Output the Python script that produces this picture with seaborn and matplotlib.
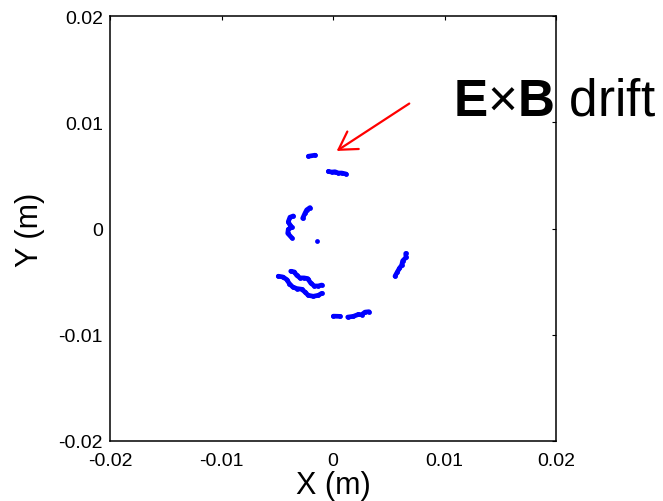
import numpy as np
import pandas as pd
import matplotlib
matplotlib.use("Agg")
import matplotlib.pyplot as plt
import seaborn as sns

# Guiding-centre trajectory fragments in the transverse plane (metres)
seg_a_x = [-0.0022, -0.0016]
seg_a_y = [0.0068, 0.0069]

seg_b_x = [-0.00042, -0.00012, 0.00018, 0.00048, 0.00078, 0.00117]
seg_b_y = [0.00537, 0.00531, 0.00534, 0.00522, 0.00522, 0.00513]

seg_c_x = [-0.00272, -0.00251, -0.00236, -0.00206]
seg_c_y = [0.00096, 0.00144, 0.00175, 0.00197]

seg_d_x = [-0.00356, -0.00386, -0.00401, -0.00386, -0.00370, -0.00401, -0.00406, -0.00370]
seg_d_y = [0.00118, 0.00106, 0.00064, 0.00033, 0.00011, -0.00008, -0.00045, -0.00087]

seg_e_x = [-0.00143]
seg_e_y = [-0.00118]

seg_f_x = [0.00652, 0.00655, 0.00625, 0.00616, 0.00595, 0.00577, 0.00556]
seg_f_y = [-0.00235, -0.00272, -0.00304, -0.00345, -0.00376, -0.00409, -0.00449]

seg_g1_x = [-0.00379, -0.00347, -0.00326, -0.00296, -0.00260, -0.00227, -0.00200, -0.00168, -0.00132, -0.00101]
seg_g1_y = [-0.00402, -0.00409, -0.00440, -0.00465, -0.00465, -0.00471, -0.00513, -0.00541, -0.00541, -0.00532]

seg_g2_x = [-0.00491, -0.00451, -0.00415, -0.00392, -0.00362, -0.00326, -0.00281, -0.00251, -0.00222, -0.00177, -0.00132, -0.00101]
seg_g2_y = [-0.00449, -0.00456, -0.00480, -0.00518, -0.00550, -0.00565, -0.00572, -0.00598, -0.00629, -0.00638, -0.00629, -0.00610]

seg_h1_x = [0.00003, 0.00063]
seg_h1_y = [-0.00825, -0.00827]

seg_h2_x = [0.00132, 0.00182, 0.00227, 0.00257, 0.00287, 0.00323]
seg_h2_y = [-0.00834, -0.00827, -0.00809, -0.00811, -0.00787, -0.00783]

ticks = [-0.02, -0.01, 0, 0.01, 0.02]
tick_labels = ["-0.02", "-0.01", "0", "0.01", "0.02"]

# arrow tail / head in data coordinates
arrow_tail = (0.00684, 0.01176)
arrow_head = (0.00033, 0.0073)

segments = {
    "a": (seg_a_x, seg_a_y), "b": (seg_b_x, seg_b_y), "c": (seg_c_x, seg_c_y),
    "d": (seg_d_x, seg_d_y), "e": (seg_e_x, seg_e_y), "f": (seg_f_x, seg_f_y),
    "g1": (seg_g1_x, seg_g1_y), "g2": (seg_g2_x, seg_g2_y),
    "h1": (seg_h1_x, seg_h1_y), "h2": (seg_h2_x, seg_h2_y),
}
rows = []
for name, (xs, ys) in segments.items():
    for i, (x, y) in enumerate(zip(xs, ys)):
        rows.append({"seg": name, "order": i, "x": x, "y": y})
df = pd.DataFrame(rows)

sns.set_style("white")
plt.rcParams["font.family"] = ["Liberation Sans", "DejaVu Sans"]
plt.rcParams["mathtext.fontset"] = "custom"
plt.rcParams["mathtext.rm"] = "Liberation Sans"
plt.rcParams["mathtext.bf"] = "Liberation Sans:bold"
plt.rcParams["text.color"] = "black"
plt.rcParams["axes.labelcolor"] = "black"

fig = plt.figure(figsize=(6.63, 5.02), dpi=100)
ax = fig.add_axes([110 / 663, 1 - 442 / 502, 446 / 663, 425 / 502])

blue = "#0000ff"
sns.lineplot(data=df, x="x", y="y", units="seg", estimator=None, sort=False,
             color=blue, linewidth=3.4, solid_capstyle="round", ax=ax)
sns.scatterplot(data=df, x="x", y="y", color=blue, s=12, linewidth=0, ax=ax)

ax.set_xlim(-0.02, 0.02)
ax.set_ylim(-0.02, 0.02)
ax.set_xticks(ticks)
ax.set_xticklabels(tick_labels)
ax.set_yticks(ticks)
ax.set_yticklabels(tick_labels)
ax.tick_params(direction="in", length=3, width=0.8, top=True, right=True,
               labelsize=14, colors="black", labelcolor="black")
ax.tick_params(axis="x", pad=8)
ax.tick_params(axis="y", pad=5)
for sp in ax.spines.values():
    sp.set_color("black")
    sp.set_linewidth(1.1)
ax.set_xlabel("X (m)", fontsize=22, labelpad=1, color="black")
ax.set_ylabel("Y (m)", fontsize=22, labelpad=10, color="black")

ax.annotate("", xy=arrow_head, xytext=arrow_tail,
            arrowprops=dict(arrowstyle="->,head_length=1.25,head_width=0.75",
                            mutation_scale=10, color="red", lw=1.6,
                            shrinkA=0, shrinkB=0))

fig.text(453 / 663, 1 - 116 / 502, r"$\mathbf{E}{\times}\mathbf{B}$ drift",
         fontsize=37, ha="left", va="baseline", color="black")

fig.savefig("out.png", dpi=100)
